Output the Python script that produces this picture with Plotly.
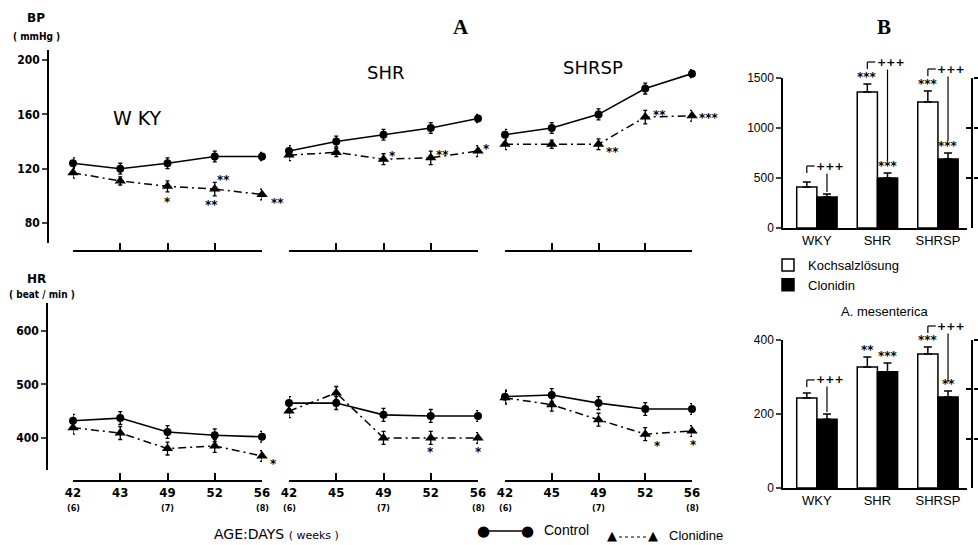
import plotly.graph_objects as go

W, H = 978, 545

# ---------------- data ----------------
days_wky = ["42", "43", "49", "52", "56"]
days_shr = ["42", "45", "49", "52", "56"]
days_shrsp = ["42", "45", "49", "52", "56"]
week_of_day = {"42": "(6)", "49": "(7)", "56": "(8)"}

bp_wky_ctrl = [124, 120, 124, 129, 129]
bp_wky_clon = [117, 111, 107, 105, 101]
bp_shr_ctrl = [133, 140, 145, 150, 157]
bp_shr_clon = [130, 132, 127, 128, 133]
bp_shrsp_ctrl = [145, 150, 160, 179, 190]
bp_shrsp_clon = [138, 138, 138, 158, 159]
bp_err_ctrl = [4, 4, 4, 4, 3]
bp_err_clon = [4, 3, 4, 5, 4]

hr_wky_ctrl = [432, 437, 411, 405, 402]
hr_wky_clon = [419, 409, 380, 385, 366]
hr_shr_ctrl = [465, 465, 443, 441, 441]
hr_shr_clon = [450, 484, 400, 400, 400]
hr_shrsp_ctrl = [477, 480, 465, 454, 454]
hr_shrsp_clon = [475, 462, 434, 407, 413]
hr_err_ctrl = [12, 12, 12, 12, 10]
hr_err_clon = [12, 12, 12, 12, 10]

# significance marks of clonidine vs control: (group index, point index, text)
bp_sig = [(0, 2, "*"), (0, 3, "**"), (0, 3, "**"), (0, 4, "**"),
          (1, 2, "*"), (1, 3, "**"), (1, 4, "*"),
          (2, 2, "**"), (2, 3, "**"), (2, 4, "***")]
hr_sig = [(0, 4, "*"), (1, 3, "*"), (1, 4, "*"), (2, 3, "*"), (2, 4, "*")]

bar_groups = ["WKY", "SHR", "SHRSP"]
top_saline = [410, 1360, 1260]
top_saline_err = [50, 80, 110]
top_clon = [310, 500, 690]
top_clon_err = [30, 50, 60]
top_sig_saline = ["", "***", "***"]
top_sig_clon = ["", "***", "***"]
top_sig_pair = ["+++", "+++", "+++"]

mes_saline = [243, 327, 362]
mes_saline_err = [14, 27, 19]
mes_clon = [186, 314, 246]
mes_clon_err = [14, 24, 16]
mes_sig_saline = ["", "**", "***"]
mes_sig_clon = ["", "***", "**"]
mes_sig_pair = ["+++", "", "+++"]

# ---------------- layout helpers ----------------
def px(x):
    return x / W

def py(y):
    return 1 - y / H

def ydom(top, bottom):
    return [py(bottom), py(top)]

LEFT_FONT = dict(family="DejaVu Sans Condensed", size=12, color="#000000", weight="bold")
BAR_FONT = dict(family="Liberation Sans", size=13, color="#000000")

fig = go.Figure()

groups = [
    (days_wky, bp_wky_ctrl, bp_wky_clon, hr_wky_ctrl, hr_wky_clon),
    (days_shr, bp_shr_ctrl, bp_shr_clon, hr_shr_ctrl, hr_shr_clon),
    (days_shrsp, bp_shrsp_ctrl, bp_shrsp_clon, hr_shrsp_ctrl, hr_shrsp_clon),
]
cols = [(73, 262), (289, 478), (505, 692)]

for gi, (days, bpc, bpk, hrc, hrk) in enumerate(groups):
    for row, (ctrl, clon, ec, ek, yref) in enumerate([
            (bpc, bpk, bp_err_ctrl, bp_err_clon, "y"),
            (hrc, hrk, hr_err_ctrl, hr_err_clon, "y2")]):
        xa = "x" + ("" if gi + 3 * row == 0 else str(gi + 3 * row + 1))
        fig.add_trace(go.Scatter(
            x=days, y=ctrl, xaxis=xa, yaxis=yref, mode="lines+markers",
            line=dict(color="black", width=1.6),
            marker=dict(symbol="circle", size=8, color="black"),
            error_y=dict(type="data", array=ec, color="black", thickness=1.3, width=2),
            cliponaxis=False, showlegend=False, name="Control"))
        fig.add_trace(go.Scatter(
            x=days, y=clon, xaxis=xa, yaxis=yref, mode="lines+markers",
            line=dict(color="black", width=1.5, dash="8px,4px,2px,4px"),
            marker=dict(symbol="triangle-up", size=10, color="black"),
            error_y=dict(type="data", array=ek, color="black", thickness=1.3, width=2),
            cliponaxis=False, showlegend=False, name="Clonidine"))

annotations = []
shapes = []
AST = dict(family="DejaVu Sans", size=12, color="#000000", weight="bold")

layout_axes = {}
for gi, (days, *_r) in enumerate(groups):
    for row in range(2):
        n = gi + 3 * row + 1
        key = "xaxis" if n == 1 else f"xaxis{n}"
        layout_axes[key] = dict(
            domain=[px(cols[gi][0]), px(cols[gi][1])],
            type="category", categoryorder="array", categoryarray=days,
            range=[0, len(days) - 1], anchor="free",
            position=py(251) if row == 0 else py(481),
            showline=True, linewidth=1.6, linecolor="black",
            ticks="inside", ticklen=7, tickwidth=1.6, tickcolor="black",
            showticklabels=(row == 1), tickfont=dict(LEFT_FONT, size=13),
            showgrid=False, zeroline=False, automargin=False)
        if row == 1:
            for pi, d in enumerate(days):
                if d in week_of_day:
                    annotations.append(dict(
                        x=pi, y=py(508), xref=f"x{n}", yref="paper", text=week_of_day[d],
                        showarrow=False, yanchor="middle",
                        font=dict(LEFT_FONT, size=9)))

layout_axes["yaxis"] = dict(
    domain=ydom(50, 243), range=[65.3, 207.4], anchor="free", position=px(48),
    showline=True, linewidth=1.6, linecolor="black", ticks="outside", ticklen=5,
    tickwidth=1.6, tickvals=[80, 120, 160, 200], tickfont=LEFT_FONT,
    showgrid=False, zeroline=False, automargin=False)
layout_axes["yaxis2"] = dict(
    domain=ydom(303, 470), range=[340, 652], anchor="free", position=px(47),
    showline=True, linewidth=1.6, linecolor="black", ticks="outside", ticklen=5,
    tickwidth=1.6, tickvals=[400, 500, 600], tickfont=LEFT_FONT,
    showgrid=False, zeroline=False, automargin=False)

# ---------------- panel B bars ----------------
TOP_DOM = (78, 228)
TOP_RANGE = 1500
MES_DOM = (340, 488)
MES_RANGE = 400
EXT_TOP = 40      # extended invisible axes for the significance brackets
EXT_MES = 300
u_top = TOP_RANGE / (TOP_DOM[1] - TOP_DOM[0])   # value units per pixel
u_mes = MES_RANGE / (MES_DOM[1] - MES_DOM[0])

for (sal, sal_e, clo, clo_e, xa, ya, leg) in [
        (top_saline, top_saline_err, top_clon, top_clon_err, "x7", "y3", True),
        (mes_saline, mes_saline_err, mes_clon, mes_clon_err, "x8", "y4", False)]:
    fig.add_trace(go.Bar(
        x=bar_groups, y=sal, xaxis=xa, yaxis=ya, name="Kochsalzlösung",
        marker=dict(color="white", line=dict(color="black", width=1.5)),
        error_y=dict(type="data", array=sal_e, arrayminus=[0] * 3, symmetric=False,
                     color="black", thickness=1.5, width=4),
        showlegend=leg, legendrank=1))
    fig.add_trace(go.Bar(
        x=bar_groups, y=clo, xaxis=xa, yaxis=ya, name="Clonidin",
        marker=dict(color="black", line=dict(color="black", width=1.5)),
        error_y=dict(type="data", array=clo_e, arrayminus=[0] * 3, symmetric=False,
                     color="black", thickness=1.5, width=4),
        showlegend=leg, legendrank=2))

# empty traces so that the cut-off neighbouring axes at the right edge are drawn
for xa, ya in [("x9", "y7"), ("x9", "y8"), ("x10", "y9"), ("x10", "y10")]:
    fig.add_trace(go.Scatter(x=[], y=[], xaxis=xa, yaxis=ya, showlegend=False,
                             hoverinfo="skip"))

bar_x = dict(domain=[px(783), px(967)], type="category", range=[-0.56, 2.48],
             showline=True, linewidth=1.5, linecolor="black", ticks="",
             tickfont=BAR_FONT, showgrid=False, zeroline=False, automargin=False)
layout_axes["xaxis7"] = dict(bar_x, anchor="y3")
layout_axes["xaxis8"] = dict(bar_x, anchor="y4")
bar_y = dict(showline=True, linewidth=1.5, linecolor="black", ticks="outside",
             ticklen=5, tickwidth=1.5, tickfont=dict(BAR_FONT, size=12),
             showgrid=False, zeroline=False, automargin=False)
layout_axes["yaxis3"] = dict(bar_y, domain=ydom(*TOP_DOM), range=[0, TOP_RANGE],
                             tickvals=[0, 500, 1000, 1500], anchor="x7")
layout_axes["yaxis4"] = dict(bar_y, domain=ydom(*MES_DOM), range=[0, MES_RANGE],
                             tickvals=[0, 200, 400], anchor="x8")
layout_axes["yaxis5"] = dict(domain=ydom(EXT_TOP, TOP_DOM[1]),
                             range=[0, u_top * (TOP_DOM[1] - EXT_TOP)],
                             anchor="x7", visible=False, automargin=False)
layout_axes["yaxis6"] = dict(domain=ydom(EXT_MES, MES_DOM[1]),
                             range=[0, u_mes * (MES_DOM[1] - EXT_MES)],
                             anchor="x8", visible=False, automargin=False)
# cut-off axis of the neighbouring panel at the right edge (its line is the zero line)
edge_x = dict(domain=[px(950), px(973.1)], range=[-1, 0.05], type="linear",
              showline=False, showticklabels=False, ticks="", showgrid=False,
              zeroline=True, zerolinecolor="black", zerolinewidth=1.5, automargin=False)
layout_axes["xaxis9"] = dict(edge_x, anchor="y7")
layout_axes["xaxis10"] = dict(edge_x, anchor="y9")
edge = dict(side="right", linewidth=1.5, linecolor="black", tickwidth=1.5,
            tickcolor="black", showticklabels=False, showgrid=False, zeroline=False,
            automargin=False, showline=False)
layout_axes["yaxis7"] = dict(edge, anchor="x9", domain=ydom(*TOP_DOM),
                             ticks="inside", ticklen=7, range=[0, TOP_RANGE],
                             tickvals=[500, 1000, 1500])
layout_axes["yaxis8"] = dict(edge, anchor="x9", overlaying="y7",
                             ticks="outside", ticklen=6, range=[0, TOP_RANGE],
                             tickvals=[500, 1000, 1500])
layout_axes["yaxis9"] = dict(edge, anchor="x10", domain=ydom(*MES_DOM),
                             ticks="inside", ticklen=7, range=[0, 3], tickvals=[1, 2, 3])
layout_axes["yaxis10"] = dict(edge, anchor="x10", overlaying="y9",
                              ticks="outside", ticklen=6, range=[0, 3], tickvals=[1, 2, 3])

# significance brackets for bars
for (sal, sal_e, clo, clo_e, s_s, s_c, s_p, xa, ya, u, gap_txt, gap_none, end_txt) in [
        (top_saline, top_saline_err, top_clon, top_clon_err, top_sig_saline, top_sig_clon,
         top_sig_pair, "x7", "y5", u_top, 15, 9, 12),
        (mes_saline, mes_saline_err, mes_clon, mes_clon_err, mes_sig_saline, mes_sig_clon,
         mes_sig_pair, "x8", "y6", u_mes, 14, 6, 9)]:
    for i in range(3):
        wc, bc = i - 0.1667, i + 0.1667
        s_top = sal[i] + sal_e[i]
        c_top = clo[i] + clo_e[i]
        if s_s[i]:
            annotations.append(dict(x=wc, y=s_top, xref=xa, yref=ya, text=s_s[i],
                                    showarrow=False, yanchor="bottom", font=AST, yshift=-2))
        if s_c[i]:
            annotations.append(dict(x=bc, y=c_top, xref=xa, yref=ya, text=s_c[i],
                                    showarrow=False, yanchor="bottom", font=AST, yshift=-2))
        if s_p[i]:
            base = s_top + (gap_txt if s_s[i] else gap_none) * u
            top = base + 7 * u
            end = c_top + (end_txt if s_c[i] else 2) * u
            line = dict(color="black", width=1.2)
            shapes.append(dict(type="line", xref=xa, yref=ya, x0=wc, x1=wc, y0=base, y1=top, line=line))
            shapes.append(dict(type="line", xref=xa, yref=ya, x0=wc, x1=wc + 0.13, y0=top, y1=top, line=line))
            shapes.append(dict(type="line", xref=xa, yref=ya, x0=bc, x1=bc, y0=top, y1=end, line=line))
            annotations.append(dict(x=bc + 0.05, y=top, xref=xa, yref=ya, text=s_p[i],
                                    showarrow=False, yanchor="middle",
                                    font=dict(AST, size=11), bgcolor="white", borderpad=0))

# significance marks in panel A
bp_off = {(0, 2, 0): (0, -13), (0, 3, 0): (-3, -13), (0, 3, 1): (9, 12), (0, 4, 0): (15, -5),
          (1, 2, 0): (9, 6), (1, 3, 0): (12, 6), (1, 4, 0): (8, 5),
          (2, 2, 0): (14, -5), (2, 3, 0): (14, 5), (2, 4, 0): (17, 1)}
seen = {}
for gi, pi, t in bp_sig:
    k = seen.get((gi, pi), 0)
    seen[(gi, pi)] = k + 1
    dx, dy = bp_off[(gi, pi, k)]
    xa = "x" if gi == 0 else f"x{gi + 1}"
    annotations.append(dict(x=pi, y=groups[gi][2][pi], xref=xa, yref="y",
                            text=t, showarrow=False, xshift=dx, yshift=dy - 3, font=AST))
hr_off = {(0, 4): (11, -5), (1, 3): (0, -11), (1, 4): (0, -11), (2, 3): (12, -9), (2, 4): (1, -11)}
for gi, pi, t in hr_sig:
    dx, dy = hr_off[(gi, pi)]
    xa = f"x{gi + 4}"
    annotations.append(dict(x=pi, y=groups[gi][4][pi], xref=xa, yref="y2",
                            text=t, showarrow=False, xshift=dx, yshift=dy - 3, font=AST))

def txt(x, y, text, size=12, family="DejaVu Sans", weight="normal", xanchor="center"):
    annotations.append(dict(x=px(x), y=py(y), xref="paper", yref="paper", text=text,
                            showarrow=False, xanchor=xanchor, yanchor="middle",
                            font=dict(family=family, size=size, color="#000000", weight=weight)))

txt(36, 18, "BP", 12, weight="bold")
txt(36, 37, "( mmHg )", 10, family="DejaVu Sans Condensed", weight="bold")
txt(36, 279, "HR", 12, weight="bold")
txt(42, 294, "( beat / min )", 10, family="DejaVu Sans Condensed", weight="bold")
txt(137, 118, "W KY", 19)
txt(385, 73, "SHR", 18)
txt(593, 67, "SHRSP", 18)
txt(461, 27, "A", 21, family="Liberation Serif", weight="bold")
txt(884, 27, "B", 21, family="Liberation Serif", weight="bold")
txt(276, 534, "AGE:DAYS <span style='font-size:11px'>( weeks )</span>", 14)
txt(884, 311, "A. mesenterica", 13, family="Liberation Sans")

# panel A legend samples
txt(483, 531, "●", 15)
txt(527, 531, "●", 15)
shapes.append(dict(type="line", xref="paper", yref="paper", x0=px(488), x1=px(522),
                   y0=py(531), y1=py(531), line=dict(color="black", width=1.5)))
txt(542, 530, "Control", 14, family="Liberation Sans", xanchor="left")
txt(612, 535, "▲", 13)
txt(653, 535, "▲", 13)
shapes.append(dict(type="line", xref="paper", yref="paper", x0=px(619), x1=px(646),
                   y0=py(537), y1=py(537), line=dict(color="black", width=1, dash="dot")))
txt(667, 535, "Clonidine", 13, family="Liberation Sans", xanchor="left")

fig.update_layout(
    width=W, height=H, margin=dict(l=0, r=0, t=0, b=0, autoexpand=False),
    paper_bgcolor="white", plot_bgcolor="rgba(0,0,0,0)",
    barmode="group", bargap=0.333, bargroupgap=0,
    font=dict(family="Liberation Sans", color="#000000"),
    legend=dict(x=px(768), y=py(250), xanchor="left", yanchor="top",
                font=dict(family="Liberation Sans", size=13, color="#000000"),
                bgcolor="rgba(0,0,0,0)", tracegroupgap=0, itemwidth=30),
    annotations=annotations, shapes=shapes, **layout_axes)

fig.write_html("out.html", config={"displayModeBar": False},
               post_script="document.body.style.margin='0px';document.body.style.overflow='hidden';")
